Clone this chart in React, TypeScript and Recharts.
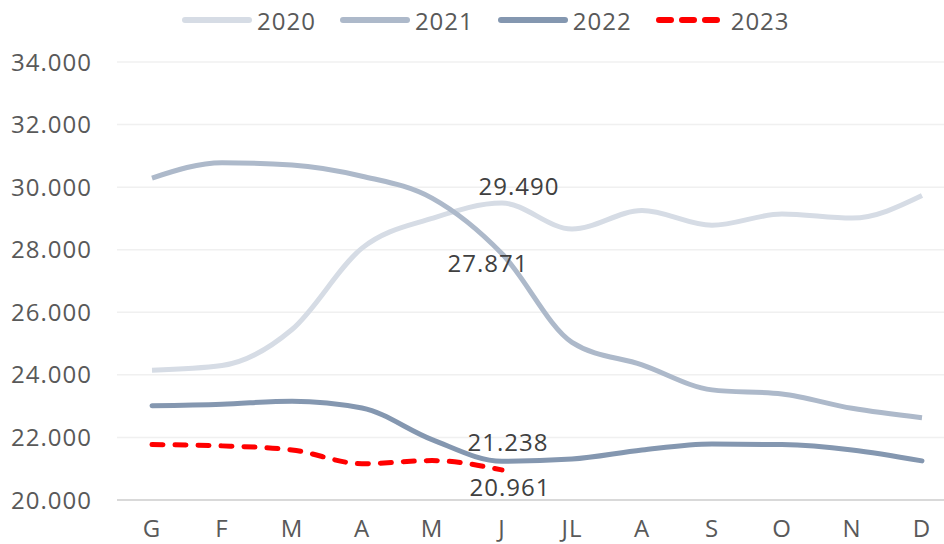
import { LineChart, Line, XAxis, YAxis, CartesianGrid, Legend } from "recharts";

const months = ["G", "F", "M", "A", "M", "J", "JL", "A", "S", "O", "N", "D"];
const y2020 = [24150, 24300, 25450, 28050, 29000, 29490, 28660, 29250, 28780, 29140, 29010, 29730];
const y2021 = [30290, 30780, 30710, 30350, 29650, 27871, 25040, 24320, 23520, 23390, 22930, 22630];
const y2022 = [23010, 23060, 23160, 22940, 21930, 21238, 21310, 21600, 21790, 21770, 21600, 21250];
const y2023 = [21770, 21730, 21600, 21160, 21260, 20961];
const yTicks = [20000, 22000, 24000, 26000, 28000, 30000, 32000, 34000];

const data = months.map((m, i) => ({
  m,
  y2020: y2020[i],
  y2021: y2021[i],
  y2022: y2022[i],
  y2023: i < y2023.length ? y2023[i] : null,
}));

const fmt = (v: number) => String(Math.round(v)).replace(/\B(?=(\d{3})+(?!\d))/g, ".");

const FONT = "'Open Sans', sans-serif";
const textStyle = { fontFamily: FONT, fontSize: 24, fill: "#595959", letterSpacing: 1 };

const legendItems = [
  { name: "2020", color: "#d6dce5", dash: false },
  { name: "2021", color: "#adb9ca", dash: false },
  { name: "2022", color: "#8497b0", dash: false },
  { name: "2023", color: "#ff0000", dash: true },
];

function LegendBox() {
  return (
    <div style={{ height: 62, position: "relative", fontFamily: FONT, fontSize: 24, color: "#595959", letterSpacing: 1 }}>
      <div style={{ position: "absolute", left: 182, top: 4, display: "flex", alignItems: "center", height: 32 }}>
        {legendItems.map((it) => (
          <div key={it.name} style={{ display: "flex", alignItems: "center", marginRight: 24 }}>
            <svg width={70} height={10} style={{ marginRight: 5 }}>
              <line
                x1={3}
                y1={5}
                x2={67}
                y2={5}
                stroke={it.color}
                strokeWidth={6}
                strokeLinecap="round"
                strokeDasharray={it.dash ? "12 11" : undefined}
              />
            </svg>
            <span>{it.name}</span>
          </div>
        ))}
      </div>
    </div>
  );
}

// label only at June, shifted like the original
function pointLabel(dx: number, dy: number) {
  // eslint-disable-next-line @typescript-eslint/no-explicit-any
  return (props: any) => {
    const { x, y, index, value } = props;
    if (index !== 5 || value == null) return null;
    return (
      <text x={x + dx} y={y + dy} textAnchor="middle" fontFamily={FONT} fontSize={24} letterSpacing={1} fill="#404040">
        {fmt(value)}
      </text>
    );
  };
}

export default function App() {
  return (
    <div style={{ position: "absolute", left: 0, top: 0, width: 944, height: 544, overflow: "hidden", background: "#fff" }}>
      <LineChart width={960} height={544} data={data} margin={{ top: 0, right: 3, left: 0, bottom: 0 }}>
        <Legend verticalAlign="top" align="left" content={() => <LegendBox />} wrapperStyle={{ top: 0, left: 0, width: 944 }} />
        <CartesianGrid vertical={false} stroke="#f0f0f0" strokeWidth={1.5} />
        <XAxis
          dataKey="m"
          height={44}
          padding={{ left: 35, right: 35 }}
          tickLine={false}
          axisLine={{ stroke: "#d9d9d9", strokeWidth: 2 }}
          tickMargin={14}
          interval={0}
          tick={textStyle}
        />
        <YAxis
          width={117}
          domain={[20000, 34000]}
          ticks={yTicks}
          tickFormatter={fmt}
          axisLine={false}
          tickLine={false}
          tickMargin={19}
          tick={textStyle}
        />
        <Line type="monotone" dataKey="y2020" stroke="#d6dce5" strokeWidth={5} dot={false} isAnimationActive={false} label={pointLabel(17, -8)} />
        <Line type="monotone" dataKey="y2021" stroke="#adb9ca" strokeWidth={5} dot={false} isAnimationActive={false} label={pointLabel(-14, 18)} />
        <Line type="monotone" dataKey="y2022" stroke="#8497b0" strokeWidth={5} dot={false} isAnimationActive={false} strokeLinecap="round" label={pointLabel(6, -10)} />
        <Line
          type="monotone"
          dataKey="y2023"
          stroke="#ff0000"
          strokeWidth={5}
          strokeDasharray="11 12"
          strokeLinecap="round"
          dot={false}
          isAnimationActive={false}
          label={pointLabel(8, 26)}
        />
      </LineChart>
    </div>
  );
}
